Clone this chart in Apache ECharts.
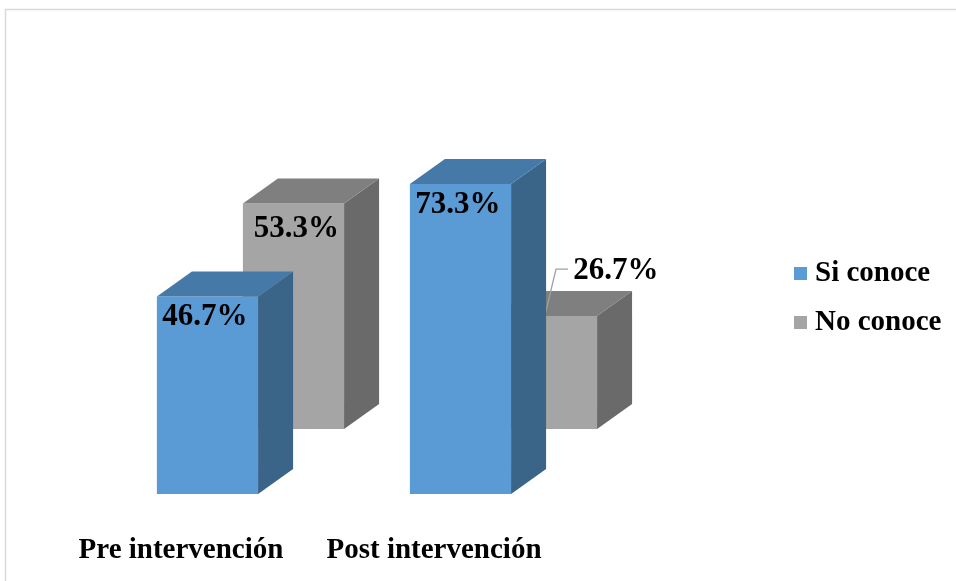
<!DOCTYPE html>
<html>
<head>
<meta charset="utf-8">
<script src="https://cdn.jsdelivr.net/npm/echarts@6/dist/echarts.min.js"></script>
<style>
  html, body { margin: 0; padding: 0; background: #fff; }
  #chart { width: 956px; height: 581px; }
</style>
</head>
<body>
<div id="chart"></div>
<script>
// Knowledge level before and after the intervention (percent of respondents)
const categories = ['Pre intervención', 'Post intervención'];
const seriesNames = ['Si conoce', 'No conoce'];
const siConoce = [46.7, 73.3];
const noConoce = [53.3, 26.7];

const FONT = '"Liberation Serif", "Times New Roman", serif';
const LABEL_FONT = 'bold 31px ' + FONT;

// 3D shading per series: front, top, side
const palette = [
  { front: '#5B9BD5', top: '#4579A8', side: '#3A6488' },
  { front: '#A5A5A5', top: '#7F7F7F', side: '#6A6A6A' }
];

const DEPTH = [35, -25];     // bar depth projection
const ROW_SHIFT = [86, -65]; // back row (second series) projection

function fmt(v) { return v.toFixed(1) + '%'; }

function makeRenderer(seriesIdx) {
  return function (params, api) {
    const cat = api.value(0);
    const val = api.value(1);
    const band = api.size([1, 0])[0];
    const w = band * 0.4;
    const shift = seriesIdx === 1 ? ROW_SHIFT : [0, 0];
    const topPt = api.coord([cat, val]);
    const basePt = api.coord([cat, 0]);
    const cx = topPt[0] + band * 0.1047 + shift[0];
    const x0 = cx - w / 2, x1 = cx + w / 2;
    const yT = topPt[1] + shift[1];
    const yB = basePt[1] + shift[1];
    const dx = DEPTH[0], dy = DEPTH[1];
    const c = palette[seriesIdx];
    const children = [
      { type: 'rect', shape: { x: x0, y: yT, width: w, height: yB - yT },
        style: { fill: c.front } },
      { type: 'polygon', shape: { points: [[x1, yT], [x1 + dx, yT + dy], [x1 + dx, yB + dy], [x1, yB]] },
        style: { fill: c.side } },
      { type: 'polygon', shape: { points: [[x0, yT], [x0 + dx, yT + dy], [x1 + dx, yT + dy], [x1, yT]] },
        style: { fill: c.top } }
    ];

    if (seriesIdx === 0) {
      children.push({ type: 'text', style: {
        text: fmt(val), x: cx - 2.5, y: yT + 21, align: 'center', verticalAlign: 'middle',
        font: LABEL_FONT, fill: '#000' } });
    } else {
      // label goes outside with a leader when the front bar hides the face
      const frontTop = api.coord([cat, siConoce[cat]])[1];
      const inY = yT + 25;
      if (frontTop < inY + 15) {
        children.push({ type: 'polyline', shape: { points: [
          [cx - 1.5, yT - 1], [cx + 9.5, yT - 47], [cx + 21.5, yT - 47]] },
          style: { stroke: '#A0A0A0', lineWidth: 1.3, fill: null } });
        children.push({ type: 'text', style: {
          text: fmt(val), x: cx + 69.5, y: yT - 45, align: 'center', verticalAlign: 'middle',
          font: LABEL_FONT, fill: '#000' } });
      } else {
        children.push({ type: 'text', style: {
          text: fmt(val), x: cx + 3, y: inY, align: 'center', verticalAlign: 'middle',
          font: LABEL_FONT, fill: '#000' } });
      }
    }
    return { type: 'group', children: children };
  };
}

const chart = echarts.init(document.getElementById('chart'), null, { renderer: 'canvas' });

chart.setOption({
  animation: false,
  backgroundColor: '#fff',
  graphic: [{
    type: 'rect', silent: true, z: -10,
    shape: { x: 5.5, y: 9.5, width: 2000, height: 2000 },
    style: { fill: null, stroke: '#D9D9D9', lineWidth: 1.5 }
  }],
  grid: { left: 54.5, right: 395.5, top: 71, bottom: 87 },
  xAxis: {
    type: 'category',
    data: categories,
    axisLine: { show: false },
    axisTick: { show: false },
    axisLabel: {
      interval: 0, hideOverlap: false,
      margin: 57, verticalAlign: 'middle', color: '#000',
      fontFamily: FONT, fontWeight: 'bold', fontSize: 29
    }
  },
  yAxis: {
    type: 'value', min: 0, max: 100,
    show: false, splitLine: { show: false }
  },
  legend: {
    data: seriesNames,
    orient: 'vertical',
    left: 794, top: 259, padding: 0,
    icon: 'rect', itemWidth: 13, itemHeight: 13, itemGap: 20,
    textStyle: { color: '#000', fontFamily: FONT, fontWeight: 'bold', fontSize: 29,
                 lineHeight: 29, padding: [0, 0, 0, 3] }
  },
  series: [
    {
      name: seriesNames[0], type: 'custom', z: 3,
      itemStyle: { color: palette[0].front },
      renderItem: makeRenderer(0),
      data: siConoce.map((v, i) => [i, v])
    },
    {
      name: seriesNames[1], type: 'custom', z: 2,
      itemStyle: { color: palette[1].front },
      renderItem: makeRenderer(1),
      data: noConoce.map((v, i) => [i, v])
    }
  ]
});
</script>
</body>
</html>
